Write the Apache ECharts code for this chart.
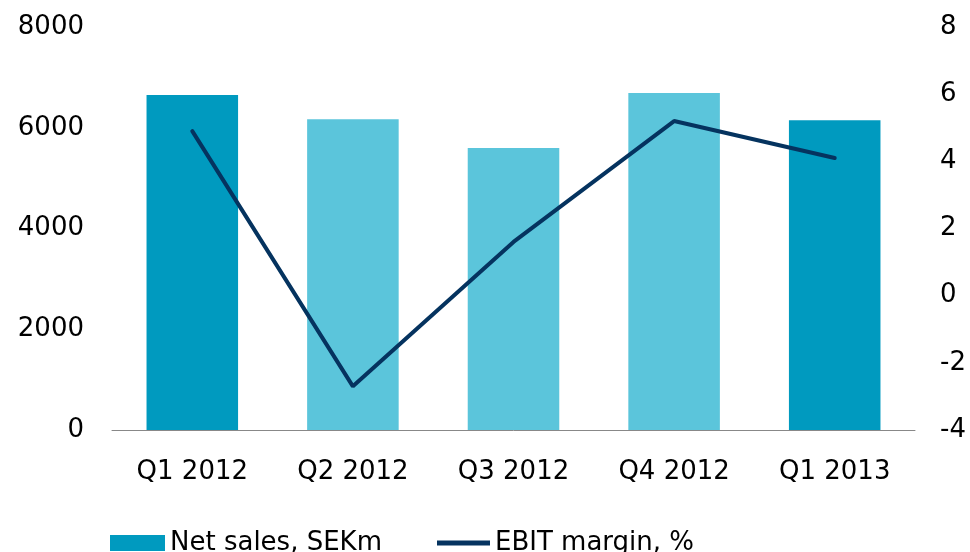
<!DOCTYPE html>
<html>
<head>
<meta charset="utf-8">
<script src="https://cdn.jsdelivr.net/npm/echarts@6/dist/echarts.min.js"></script>
<style>
  html, body { margin: 0; padding: 0; background: #fff; }
  #chart { width: 970px; height: 552px; }
</style>
</head>
<body>
<div id="chart"></div>
<script>
// quarters and values
const quarters = ['Q1 2012', 'Q2 2012', 'Q3 2012', 'Q4 2012', 'Q1 2013'];
const netSales = [6650, 6170, 5600, 6690, 6150];
const ebitMargin = [4.9, -2.7, 1.6, 5.2, 4.1];
const darkBars = [true, false, false, false, true];

const dark = '#009ABF';
const light = '#5BC5DB';
const navy = '#05335F';
const font = 'DejaVu Sans';
const fs = 26;

const chart = echarts.init(document.getElementById('chart'));

const legendText = { fontSize: fs, color: '#000', fontFamily: font };

chart.setOption({
  animation: false,
  textStyle: { fontFamily: font },
  grid: { left: 112, right: 55, top: 27, bottom: 122 },
  legend: [
    {
      bottom: -9,
      left: 105,
      icon: 'rect',
      itemWidth: 55,
      itemHeight: 16,
      textStyle: legendText,
      data: [{ name: 'Net sales, SEKm', itemStyle: { color: dark } }],
    },
    {
      bottom: -9,
      left: 432,
      icon: 'rect',
      itemWidth: 53,
      itemHeight: 5,
      textStyle: legendText,
      data: [{ name: 'EBIT margin, %', itemStyle: { color: navy } }],
    },
  ],
  xAxis: {
    type: 'category',
    data: quarters,
    axisLine: { show: true, lineStyle: { color: '#888', width: 1 } },
    axisTick: { show: false },
    axisLabel: { color: '#000', fontSize: fs, margin: 29, fontFamily: font },
  },
  yAxis: [
    {
      type: 'value',
      min: 0,
      max: 8000,
      interval: 2000,
      axisLine: { show: false },
      axisTick: { show: false },
      splitLine: { show: false },
      axisLabel: {
        color: '#000', fontSize: fs, margin: 28, fontFamily: font,
        padding: [4, 0, 0, 0],
        formatter: (v) => String(v),
      },
    },
    {
      type: 'value',
      min: -4,
      max: 8,
      interval: 2,
      axisLine: { show: false },
      axisTick: { show: false },
      splitLine: { show: false },
      axisLabel: {
        color: '#000', fontSize: fs, margin: 25, fontFamily: font,
        padding: [4, 0, 0, 0],
      },
    },
  ],
  series: [
    {
      name: 'Net sales, SEKm',
      type: 'bar',
      barWidth: '57%',
      itemStyle: { color: dark },
      data: netSales.map((v, i) => ({
        value: v,
        itemStyle: { color: darkBars[i] ? dark : light },
      })),
    },
    {
      name: 'EBIT margin, %',
      type: 'line',
      yAxisIndex: 1,
      symbol: 'none',
      lineStyle: { color: navy, width: 4, cap: 'round' },
      itemStyle: { color: navy },
      data: ebitMargin,
    },
  ],
});
</script>
</body>
</html>
